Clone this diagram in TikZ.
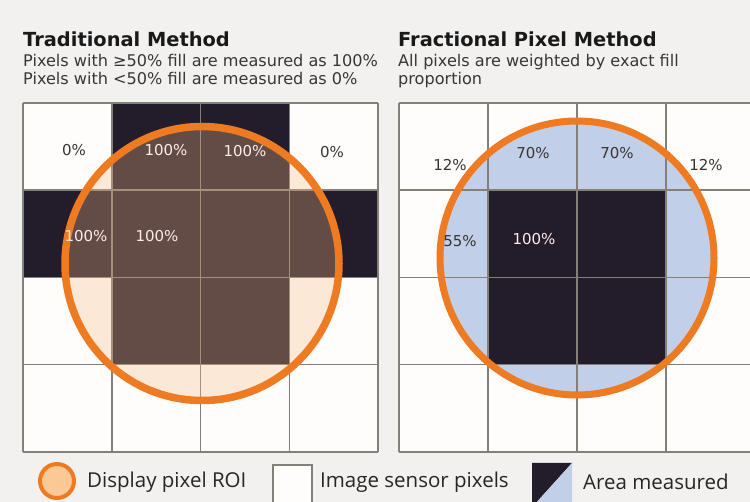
\documentclass[tikz,border=0pt]{standalone}
\usepackage{fontspec}
\setmainfont{DejaVu Sans}
\newfontfamily\legendfont{Open Sans}
\definecolor{bggray}{RGB}{243,241,240}
\definecolor{cellwhite}{RGB}{254,253,252}
\definecolor{gridgray}{RGB}{132,127,121}
\definecolor{darkpix}{RGB}{35,29,43}
\definecolor{roiorange}{RGB}{238,122,34}
\definecolor{roipeach}{RGB}{248,185,130}
\definecolor{legpeach}{RGB}{251,200,150}
\definecolor{bluepix}{RGB}{193,208,232}
\definecolor{txtdark}{RGB}{58,53,53}
\begin{document}
\begin{tikzpicture}[x=1pt,y=-1pt,
  gridline/.style={draw=gridgray, line width=1.5pt},
  roi/.style={draw=roiorange, line width=7.5pt},
  title/.style={anchor=base west, inner sep=0pt, text=black!90, font=\fontsize{19.4}{22}\selectfont\bfseries},
  subtitle/.style={anchor=base west, inner sep=0pt, text=txtdark, font=\fontsize{16.1}{18}\selectfont},
  pct/.style={inner sep=0pt, font=\fontsize{15}{16}\selectfont},
  legend/.style={anchor=west, inner sep=0pt, text=black!85, font=\legendfont\fontsize{20.5}{24}\selectfont}]
\useasboundingbox[fill=bggray] (0,0) rectangle (750,502);

\node[title] (tradtitle) at (23,47) {Traditional Method};
\node[subtitle] (tradline1) at (23,67) {Pixels with ≥50\% fill are measured as 100\%};
\node[subtitle] (tradline2) at (23,85) {Pixels with <50\% fill are measured as 0\%};
\node[title] (fractitle) at (398,47) {Fractional Pixel Method};
\node[subtitle] (fracline1) at (398,67) {All pixels are weighted by exact fill};
\node[subtitle] (fracline2) at (398,85) {proportion};

% traditional method
\fill[cellwhite] (23,103) rectangle (378,452);
\foreach \c/\r in {1/0,2/0,0/1,1/1,2/1,3/1,1/2,2/2}
  \fill[darkpix] ({23+\c*88.75},{103+\r*87.25}) rectangle +(88.75,87.25);
\foreach \i in {0,...,4} {
  \draw[gridline] ({23+\i*88.75},103) -- ({23+\i*88.75},452);
  \draw[gridline] (23,{103+\i*87.25}) -- (378,{103+\i*87.25});
}
\fill[roipeach, fill opacity=0.3] (202,263.5) circle[radius=137];
\draw[roi] (202,263.5) circle[radius=137];
\node[pct, text=txtdark] (a1) at (74,150) {0\%};
\node[pct, text=white!92!red] (a2) at (166,150) {100\%};
\node[pct, text=white!92!red] (a3) at (245,151) {100\%};
\node[pct, text=txtdark] (a4) at (332,152) {0\%};
\node[pct, text=white!92!red] (a5) at (86,236) {100\%};
\node[pct, text=white!92!red] (a6) at (157,236) {100\%};

% fractional pixel method
\fill[cellwhite] (399,103) rectangle (755,452);
\fill[bluepix] (577,258) circle[radius=137];
\foreach \c/\r in {1/1,2/1,1/2,2/2}
  \fill[darkpix] ({399+\c*89},{103+\r*87.25}) rectangle +(89,87.25);
\foreach \i in {0,...,4} {
  \draw[gridline] ({399+\i*89},103) -- ({399+\i*89},452);
  \draw[gridline] (399,{103+\i*87.25}) -- (755,{103+\i*87.25});
}
\draw[roi, line width=7pt] (577,258) circle[radius=137];
\node[pct, text=txtdark] (b1) at (450,165) {12\%};
\node[pct, text=txtdark] (b2) at (533,153) {70\%};
\node[pct, text=txtdark] (b3) at (617,153) {70\%};
\node[pct, text=txtdark] (b4) at (706,165) {12\%};
\node[pct, text=txtdark] (b5) at (460,241) {55\%};
\node[pct, text=white!92!red] (b6) at (534,239) {100\%};

% legend
\draw[draw=roiorange, line width=4pt, fill=legpeach] (57,481) circle[radius=17];
\node[legend] (leg1) at (87,482) {Display pixel ROI};
\draw[draw=gridgray, line width=1.5pt, fill=cellwhite] (273,465) rectangle (312,504);
\node[legend] (leg2) at (320,482) {Image sensor pixels};
\fill[darkpix] (532,463) -- (572,463) -- (535,504) -- (532,504) -- cycle;
\fill[bluepix] (572,463) -- (572,504) -- (535,504) -- cycle;
\node[legend] (leg3) at (583,482) {Area measured};
\end{tikzpicture}
\end{document}
